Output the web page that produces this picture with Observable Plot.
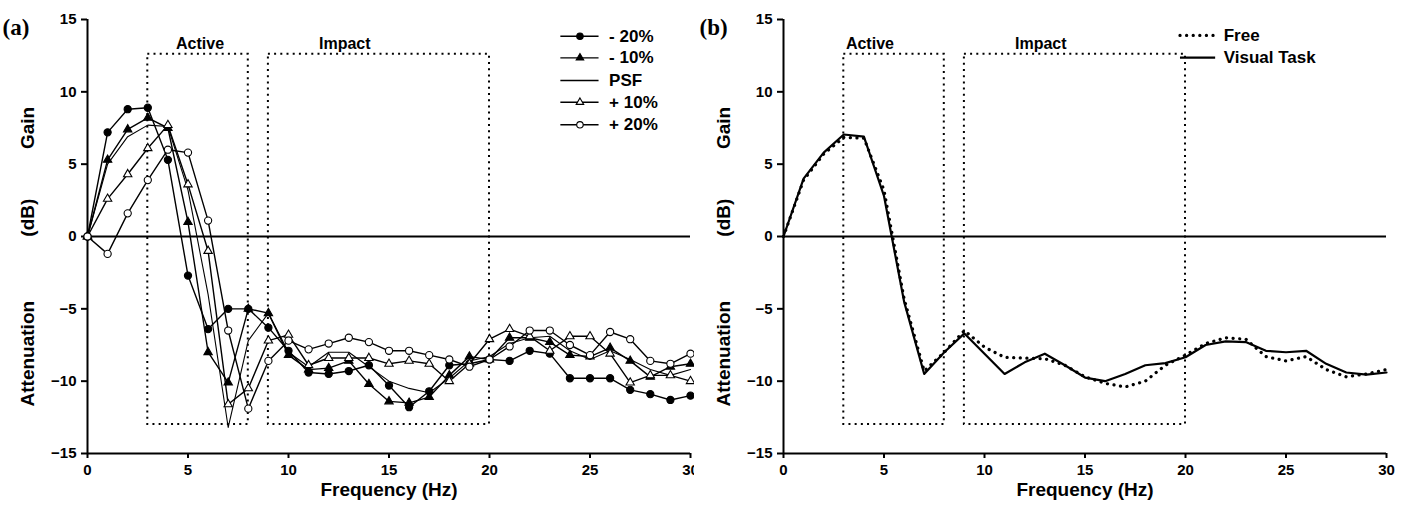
<!DOCTYPE html>
<html>
<head>
<meta charset="utf-8">
<script src="https://cdn.jsdelivr.net/npm/d3@7"></script>
<script src="https://cdn.jsdelivr.net/npm/@observablehq/plot@0.6"></script>
<style>
  html, body { margin: 0; padding: 0; background: #fff; }
  #wrap { display: flex; width: 1411px; height: 532px; }
  #left { width: 694px; height: 532px; overflow: hidden; flex: none; }
  #right { width: 717px; height: 532px; overflow: hidden; flex: none; }
  #wrap svg { max-width: none !important; }
</style>
</head>
<body>
<div id="wrap"><div id="left"></div><div id="right"></div></div>
<script>
// ---- data ----
const freq = [0,1,2,3,4,5,6,7,8,9,10,11,12,13,14,15,16,17,18,19,20,21,22,23,24,25,26,27,28,29,30];
const minus20 = [0, 7.2, 8.8, 8.9, 5.3, -2.7, -6.4, -5.0, -5.0, -6.3, -7.9, -9.4, -9.5, -9.3, -8.9, -10.3, -11.8, -10.7, -8.9, -8.8, -8.5, -8.6, -7.9, -8.1, -9.8, -9.8, -9.8, -10.6, -10.9, -11.3, -11.0];
const minus10 = [0, 5.3, 7.4, 8.2, 7.5, 1.0, -8.0, -10.1, -5.0, -5.3, -8.2, -9.2, -9.1, -8.6, -10.2, -11.4, -11.5, -11.1, -9.6, -8.3, -8.5, -7.0, -7.0, -7.3, -8.2, -8.3, -7.7, -8.6, -9.7, -9.0, -8.8];
const psf     = [0, 5.0, 6.9, 7.7, 7.6, 3.2, -4.0, -13.2, -7.2, -5.3, -8.0, -9.0, -8.0, -8.0, -9.0, -10.0, -10.5, -10.8, -9.8, -8.6, -8.3, -7.4, -7.0, -6.9, -7.9, -8.5, -7.9, -8.5, -9.2, -9.6, -9.2];
const plus10  = [0, 2.6, 4.3, 6.1, 7.7, 3.6, -1.0, -11.6, -10.5, -7.2, -6.8, -8.9, -8.4, -8.4, -8.4, -8.8, -8.6, -8.8, -10.0, -8.8, -7.1, -6.4, -6.9, -7.9, -6.9, -6.9, -8.1, -10.1, -9.6, -9.6, -10.0];
const plus20  = [0, -1.2, 1.6, 3.9, 6.0, 5.8, 1.1, -6.5, -11.9, -8.6, -7.2, -7.8, -7.4, -7.0, -7.3, -7.9, -7.9, -8.2, -8.5, -9.0, -8.5, -7.6, -6.5, -6.5, -7.5, -8.2, -6.6, -7.1, -8.6, -8.8, -8.1];
const free    = [0, 3.9, 5.7, 6.85, 6.8, 3.2, -4.3, -9.3, -8.0, -6.5, -7.65, -8.35, -8.4, -8.45, -8.9, -9.7, -10.15, -10.4, -10.0, -8.9, -8.2, -7.4, -7.0, -7.1, -8.3, -8.6, -8.3, -9.2, -9.7, -9.5, -9.2];
const visualTask = [0, 4.0, 5.8, 7.05, 6.9, 2.8, -4.5, -9.5, -8.0, -6.7, -8.1, -9.5, -8.7, -8.1, -8.9, -9.75, -10.0, -9.5, -8.9, -8.75, -8.35, -7.5, -7.25, -7.3, -7.9, -8.0, -7.9, -8.8, -9.4, -9.55, -9.4];

const seriesLeftNames = ["- 20%", "- 10%", "PSF", "+ 10%", "+ 20%"];
const seriesRightNames = ["Free", "Visual Task"];
const yTicks = [-15, -10, -5, 0, 5, 10, 15];
const xTicks = [0, 5, 10, 15, 20, 25, 30];
const regionNames = ["Active", "Impact"];
const regionStart = [3, 9];
const regionEnd = [8, 20];
const regionBottom = -13;
const regionTop = 12.6;
const xLabel = "Frequency (Hz)";
const yLabelParts = ["Gain", "(dB)", "Attenuation"];

// ---- helpers ----
const rows = (arr, name) => freq.map((f, i) => ({f, v: arr[i], s: name}));
const FONT = "Liberation Sans, Arial, sans-serif";
const SERIF = "Liberation Serif, Times New Roman, serif";

function commonMarks(labelX) {
  const regions = regionNames.map((n, i) => ({name: n, x1: regionStart[i], x2: regionEnd[i], lx: labelX[i]}));
  return [
    Plot.rect(regions, {x1: "x1", x2: "x2", y1: () => regionBottom, y2: () => regionTop,
      fill: "none", stroke: "#000", strokeWidth: 2, strokeDasharray: "2,4.2"}),
    Plot.text(regions, {x: "lx", y: () => 13.3, text: "name",
      fontSize: 16, fontWeight: "bold", fill: "#000"}),
    Plot.ruleY([0], {x1: 0, x2: 30, stroke: "#000", strokeWidth: 2}),
    Plot.ruleX([0], {y1: -15, y2: 15, stroke: "#000", strokeWidth: 2}),
    Plot.ruleY([-15], {x1: 0, x2: 30, stroke: "#000", strokeWidth: 2}),
    Plot.axisY({ticks: yTicks, tickSize: 6, tickPadding: 5, label: null, fontSize: 15, fontWeight: "bold", strokeWidth: 2}),
    Plot.axisX({ticks: xTicks, tickSize: 5, tickPadding: 6, label: null, fontSize: 15, fontWeight: "bold", strokeWidth: 2}),
    Plot.text([xLabel], {frameAnchor: "bottom", dy: 42, fontSize: 19, fontWeight: "bold", fill: "#000"}),
    Plot.text(yLabelParts, {frameAnchor: "left", dx: -60, y: (d, i) => [7.5, 1.3, -8.1][i], rotate: -90,
      textAnchor: "middle", fontSize: 19, fontWeight: "bold", fill: "#000", text: d => d})
  ];
}

// ---- left panel ----
const L = {"- 20%": minus20, "- 10%": minus10, "PSF": psf, "+ 10%": plus10, "+ 20%": plus20};
const sym = {
  "- 20%": {symbol: "circle", fill: "#000", r: 3.6},
  "- 10%": {symbol: "triangle", fill: "#000", r: 3.1},
  "+ 10%": {symbol: "triangle", fill: "#fff", r: 3.1},
  "+ 20%": {symbol: "circle", fill: "#fff", r: 3.6}
};
const legendY = [13.84, 12.35, 10.78, 9.28, 7.72];
const legendRows = seriesLeftNames.map((n, i) => ({name: n, y: legendY[i]}));

const leftMarks = [...commonMarks([5.6, 12.8])];
for (const n of seriesLeftNames) {
  leftMarks.push(Plot.line(rows(L[n], n), {x: "f", y: "v", stroke: "#000", strokeWidth: n === "PSF" ? 1.1 : 1.4}));
}
for (const n of seriesLeftNames) {
  if (!sym[n]) continue;
  leftMarks.push(Plot.dot(rows(L[n], n), {x: "f", y: "v", symbol: sym[n].symbol, r: sym[n].r,
    fill: sym[n].fill, stroke: "#000", strokeWidth: 1.1}));
}
// legend
leftMarks.push(Plot.ruleY(legendRows, {y: "y", x1: () => 23.55, x2: () => 25.45, stroke: "#000", strokeWidth: 1.4}));
for (const r of legendRows) {
  if (!sym[r.name]) continue;
  leftMarks.push(Plot.dot([r], {x: () => 24.5, y: "y", symbol: sym[r.name].symbol, r: sym[r.name].r * 0.9,
    fill: sym[r.name].fill, stroke: "#000", strokeWidth: 1.1}));
}
leftMarks.push(Plot.text(legendRows, {x: () => 25.95, y: "y", text: "name", textAnchor: "start",
  fontSize: 17, fontWeight: "bold", fill: "#000"}));
leftMarks.push(Plot.text(["(a)"], {frameAnchor: "top-left", dx: -85, dy: -1, textAnchor: "start",
  fontFamily: SERIF, fontSize: 23, fontWeight: "bold", fill: "#000"}));

const left = Plot.plot({
  width: 705, height: 532,
  marginLeft: 87, marginRight: 15, marginTop: 19, marginBottom: 79,
  x: {domain: [0, 30]},
  y: {domain: [-15, 15]},
  style: {fontFamily: FONT, fontWeight: "bold", background: "#fff", color: "#000", maxWidth: "none"},
  marks: leftMarks
});
document.getElementById("left").appendChild(left);

// ---- right panel ----
const rightLegend = seriesRightNames.map((n, i) => ({name: n, y: [13.9, 12.37][i]}));
const rightMarks = [...commonMarks([4.3, 12.8]),
  Plot.line(rows(free, "Free"), {x: "f", y: "v", stroke: "#000", strokeWidth: 3.2,
    strokeDasharray: "0.1,6.5", strokeLinecap: "round"}),
  Plot.line(rows(visualTask, "Visual Task"), {x: "f", y: "v", stroke: "#000", strokeWidth: 2.2}),
  Plot.ruleY([rightLegend[0]], {y: "y", x1: () => 19.75, x2: () => 21.5, stroke: "#000", strokeWidth: 3.2,
    strokeDasharray: "0.1,6.5", strokeLinecap: "round"}),
  Plot.ruleY([rightLegend[1]], {y: "y", x1: () => 19.75, x2: () => 21.5, stroke: "#000", strokeWidth: 2.2}),
  Plot.text(rightLegend, {x: () => 21.9, y: "y", text: "name", textAnchor: "start",
    fontSize: 17, fontWeight: "bold", fill: "#000"}),
  Plot.text(["(b)"], {frameAnchor: "top-left", dx: -84, dy: -1, textAnchor: "start",
    fontFamily: SERIF, fontSize: 23, fontWeight: "bold", fill: "#000"})
];
const right = Plot.plot({
  width: 717, height: 532,
  marginLeft: 89, marginRight: 25, marginTop: 19, marginBottom: 79,
  x: {domain: [0, 30]},
  y: {domain: [-15, 15]},
  style: {fontFamily: FONT, fontWeight: "bold", background: "#fff", color: "#000", maxWidth: "none"},
  marks: rightMarks
});
document.getElementById("right").appendChild(right);
</script>
</body>
</html>
